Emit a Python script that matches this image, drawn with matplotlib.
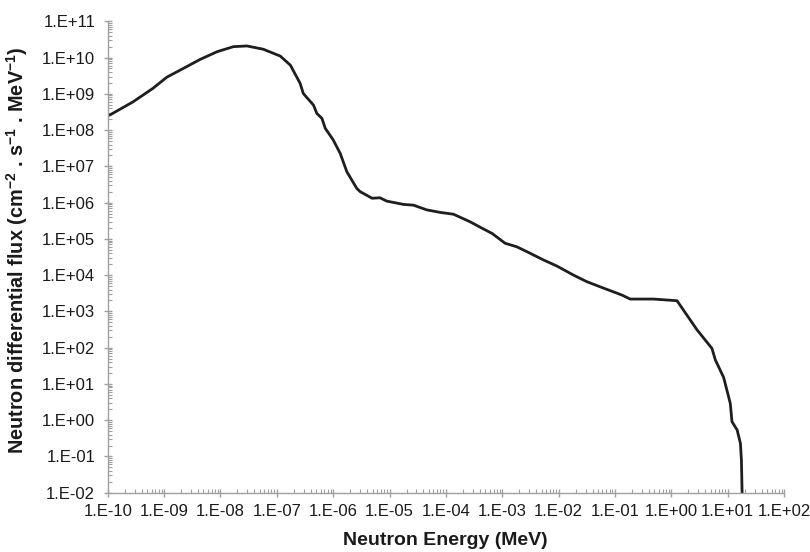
import matplotlib
matplotlib.use("Agg")
import matplotlib.pyplot as plt
from matplotlib.ticker import LogLocator, FuncFormatter, NullFormatter
import numpy as np

energy_mev = [1.0e-10, 1.10e-10, 2.82e-10, 6.31e-10, 1.12e-9, 2.19e-9, 4.37e-9, 8.71e-9,
              1.70e-8, 2.95e-8, 5.75e-8, 1.15e-7, 1.74e-7, 2.59e-7, 2.95e-7, 4.47e-7,
              5.13e-7, 6.31e-7, 7.24e-7, 1.0e-6, 1.33e-6, 1.75e-6, 2.63e-6, 3.02e-6,
              4.90e-6, 6.76e-6, 8.91e-6, 1.78e-5, 2.66e-5, 4.57e-5, 7.94e-5, 1.36e-4,
              2.70e-4, 4.07e-4, 6.61e-4, 1.12e-3, 1.82e-3, 2.75e-3, 5.37e-3, 9.33e-3,
              1.84e-2, 3.16e-2, 6.31e-2, 0.133, 0.186, 0.485, 1.26, 2.86, 5.25, 6.04,
              8.47, 11.1, 11.9, 14.7, 16.8, 17.5, 18.0, 18.1]
flux = [2.51e8, 2.63e8, 6.03e8, 1.41e9, 2.88e9, 5.01e9, 8.91e9, 1.45e10,
        2.0e10, 2.09e10, 1.70e10, 1.10e10, 6.17e9, 1.95e9, 1.02e9, 4.90e8,
        2.88e8, 2.11e8, 1.12e8, 5.37e7, 2.29e7, 7.08e6, 2.45e6, 2.0e6,
        1.32e6, 1.36e6, 1.10e6, 8.91e5, 8.51e5, 6.31e5, 5.37e5, 4.79e5,
        2.95e5, 2.09e5, 1.41e5, 7.59e4, 6.03e4, 4.42e4, 2.63e4, 1.78e4,
        1.0e4, 6.61e3, 4.37e3, 2.82e3, 2.19e3, 2.19e3, 1.97e3, 309, 95.5, 45.7,
        15.1, 2.92, 0.912, 0.537, 0.229, 0.0794, 0.01, 0.005]

x_limits = (1e-10, 1e2)
y_limits = (1e-2, 1e11)
x_label = "Neutron Energy (MeV)"
y_label = r"Neutron differential flux (cm$^{\mathbf{-2}}$ . s$^{\mathbf{-1}}$ . MeV$^{\mathbf{-1}}$)"

plt.rcParams['font.family'] = ['Liberation Sans', 'DejaVu Sans']
plt.rcParams['mathtext.fontset'] = 'custom'
plt.rcParams['mathtext.rm'] = 'Liberation Sans:bold'
plt.rcParams['mathtext.bf'] = 'Liberation Sans:bold'
plt.rcParams['mathtext.default'] = 'bf'

fig = plt.figure(figsize=(8.1, 5.52), dpi=100)
ax = fig.add_axes([0.133, 0.1074, 0.835, 0.854])

ax.plot(energy_mev, flux, color='#1e1e1e', lw=2.0, solid_joinstyle='round')
ax.set_xscale('log')
ax.set_yscale('log')
ax.set_xlim(*x_limits)
ax.set_ylim(*y_limits)

def fmt(v, pos):
    e = int(round(np.log10(v)))
    return f"1.E{e:+03d}"

for axis in (ax.xaxis, ax.yaxis):
    axis.set_major_locator(LogLocator(base=10, numticks=30))
    axis.set_minor_locator(LogLocator(base=10, subs=np.arange(2, 10), numticks=30))
    axis.set_major_formatter(FuncFormatter(fmt))
    axis.set_minor_formatter(NullFormatter())

gray = '#a0a0a0'
for s in ['top', 'right']:
    ax.spines[s].set_visible(False)
for s in ['left', 'bottom']:
    ax.spines[s].set_color(gray)
    ax.spines[s].set_linewidth(1.0)

ax.tick_params(which='major', direction='inout', length=6, width=1.0, color=gray,
               labelsize=12, labelcolor='#1a1a1a')
ax.tick_params(axis='x', which='major', pad=5)
ax.tick_params(axis='y', which='major', pad=6)
ax.tick_params(which='minor', direction='in', length=3, width=0.8, color=gray)

ax.set_xlabel(x_label, fontsize=14, fontweight='bold', color='#1a1a1a')
ax.set_ylabel(y_label, fontsize=14.3, fontweight='bold', color='#1a1a1a')
ax.xaxis.set_label_coords(0.4997, -0.083)
ax.yaxis.set_label_coords(-0.115, 0.515)

fig.savefig('out.png', dpi=100)
